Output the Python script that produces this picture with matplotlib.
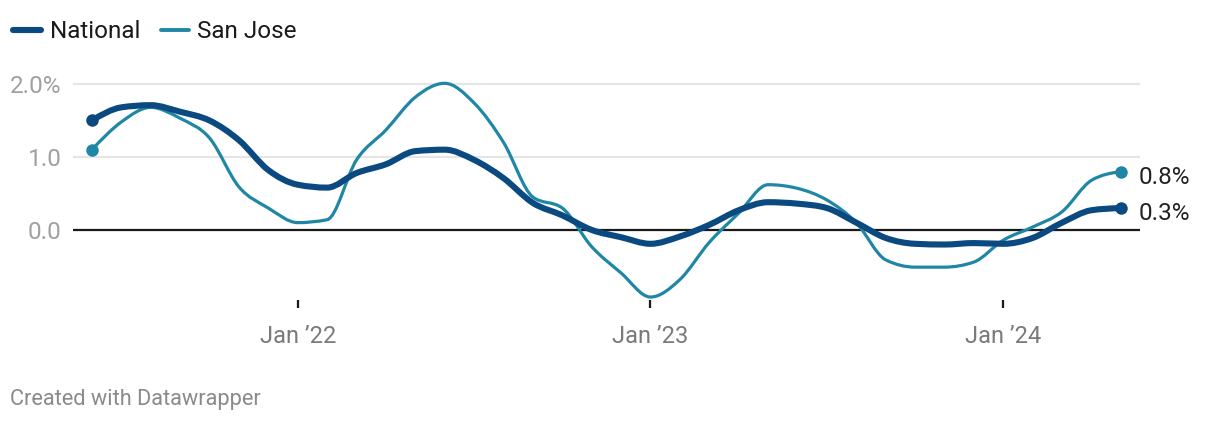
import numpy as np
import matplotlib
matplotlib.use("Agg")
import matplotlib.pyplot as plt
from matplotlib.path import Path
from matplotlib.patches import PathPatch
from matplotlib.lines import Line2D

plt.rcParams['font.family'] = ['Roboto', 'DejaVu Sans']

# monthly values, Jun 2021 .. May 2024 (month-over-month % change)
months = list(range(36))
national = [1.50, 1.68, 1.71, 1.62, 1.50, 1.23, 0.82, 0.62, 0.58, 0.78, 0.90, 1.08,
            1.10, 0.96, 0.71, 0.37, 0.20, 0.00, -0.10, -0.19, -0.09, 0.07, 0.27, 0.38,
            0.36, 0.30, 0.10, -0.11, -0.19, -0.20, -0.18, -0.19, -0.11, 0.10, 0.27, 0.30]
san_jose = [1.10, 1.48, 1.68, 1.53, 1.26, 0.59, 0.30, 0.10, 0.14, 0.96, 1.37, 1.82,
            2.01, 1.74, 1.20, 0.45, 0.30, -0.23, -0.59, -0.92, -0.68, -0.17, 0.23, 0.62,
            0.57, 0.41, 0.10, -0.41, -0.51, -0.51, -0.44, -0.14, 0.04, 0.25, 0.68, 0.80]
tick_months = [7, 19, 31]
tick_labels = ["Jan \u201922", "Jan \u201923", "Jan \u201924"]
y_ticks = [0, 1, 2]
y_labels = ["0.0", "1.0", "2.0%"]

c_nat = "#0b4a80"
c_sj = "#1f87a5"


def monotone_path(x, y):
    # cubic bezier segments with monotone tangents (like d3 curveMonotoneX)
    x = np.asarray(x, float)
    y = np.asarray(y, float)
    n = len(x)
    h = np.diff(x)
    s = np.diff(y) / h
    t = np.zeros(n)
    for i in range(1, n - 1):
        p = (s[i - 1] * h[i] + s[i] * h[i - 1]) / (h[i - 1] + h[i])
        t[i] = (np.sign(s[i - 1]) + np.sign(s[i])) * min(abs(s[i - 1]), abs(s[i]), 0.5 * abs(p))
    t[0] = (3 * s[0] - t[1]) / 2
    t[-1] = (3 * s[-1] - t[-2]) / 2
    verts = [(x[0], y[0])]
    codes = [Path.MOVETO]
    for i in range(n - 1):
        d = h[i] / 3
        verts += [(x[i] + d, y[i] + d * t[i]), (x[i + 1] - d, y[i + 1] - d * t[i + 1]), (x[i + 1], y[i + 1])]
        codes += [Path.CURVE4] * 3
    return Path(verts, codes)


fig = plt.figure(figsize=(12.2, 4.24), dpi=100)
ax = fig.add_axes([0.0598, 0.2925, 0.8746, 0.530])
ax.set_xlim(-0.646, 35.65)
ax.set_ylim(-0.96, 2.12)

for v in [1, 2]:
    ax.axhline(v, color="#e5e5e5", lw=1.6, zorder=1)
ax.axhline(0, color="#1a1a1a", lw=1.6, zorder=2)

for vals, col, lw in [(san_jose, c_sj, 2.3), (national, c_nat, 4.4)]:
    ax.add_patch(PathPatch(monotone_path(months, vals), fill=False, edgecolor=col,
                           lw=lw, capstyle="round", joinstyle="round", zorder=3))
    ax.plot([months[0], months[-1]], [vals[0], vals[-1]], "o", color=col, ms=9, mew=0, zorder=4)

ax.annotate(f"{san_jose[-1]:.1f}%", (months[-1], san_jose[-1]), xytext=(13, -4),
            textcoords="offset points", va="center", ha="left", fontsize=17.5, color="#222222")
ax.annotate(f"{national[-1]:.1f}%", (months[-1], national[-1]), xytext=(13, -4),
            textcoords="offset points", va="center", ha="left", fontsize=17.5, color="#222222")

for s in ax.spines.values():
    s.set_visible(False)
ax.set_yticks(y_ticks)
ax.set_yticklabels(y_labels)
ax.tick_params(axis="y", length=0, pad=8, labelsize=17.5, labelcolor="#a0a0a0")
ax.set_xticks(tick_months)
ax.set_xticklabels(tick_labels)
ax.tick_params(axis="x", length=6, width=1.6, color="#1a1a1a", direction="out",
               pad=12, labelsize=17, labelcolor="#7a7a7a")
for lab in ax.get_yticklabels():
    lab.set_ha("right")

handles = [Line2D([], [], color=c_nat, lw=4.4, solid_capstyle="round"),
           Line2D([], [], color=c_sj, lw=2.8, solid_capstyle="round")]
fig.legend(handles, ["National", "San Jose"], loc="center left",
           bbox_to_anchor=(0.011, 1 - 32 / 424), ncol=2, frameon=False, fontsize=17.5,
           handlelength=1.15, handletextpad=0.35, columnspacing=0.85, borderaxespad=0,
           borderpad=0, labelcolor="#1a1a1a")

fig.text(0.008, 1 - 400 / 424, "Created with Datawrapper", fontsize=15.7, color="#8a8a8a", va="center")

fig.savefig("out.png", dpi=100)
